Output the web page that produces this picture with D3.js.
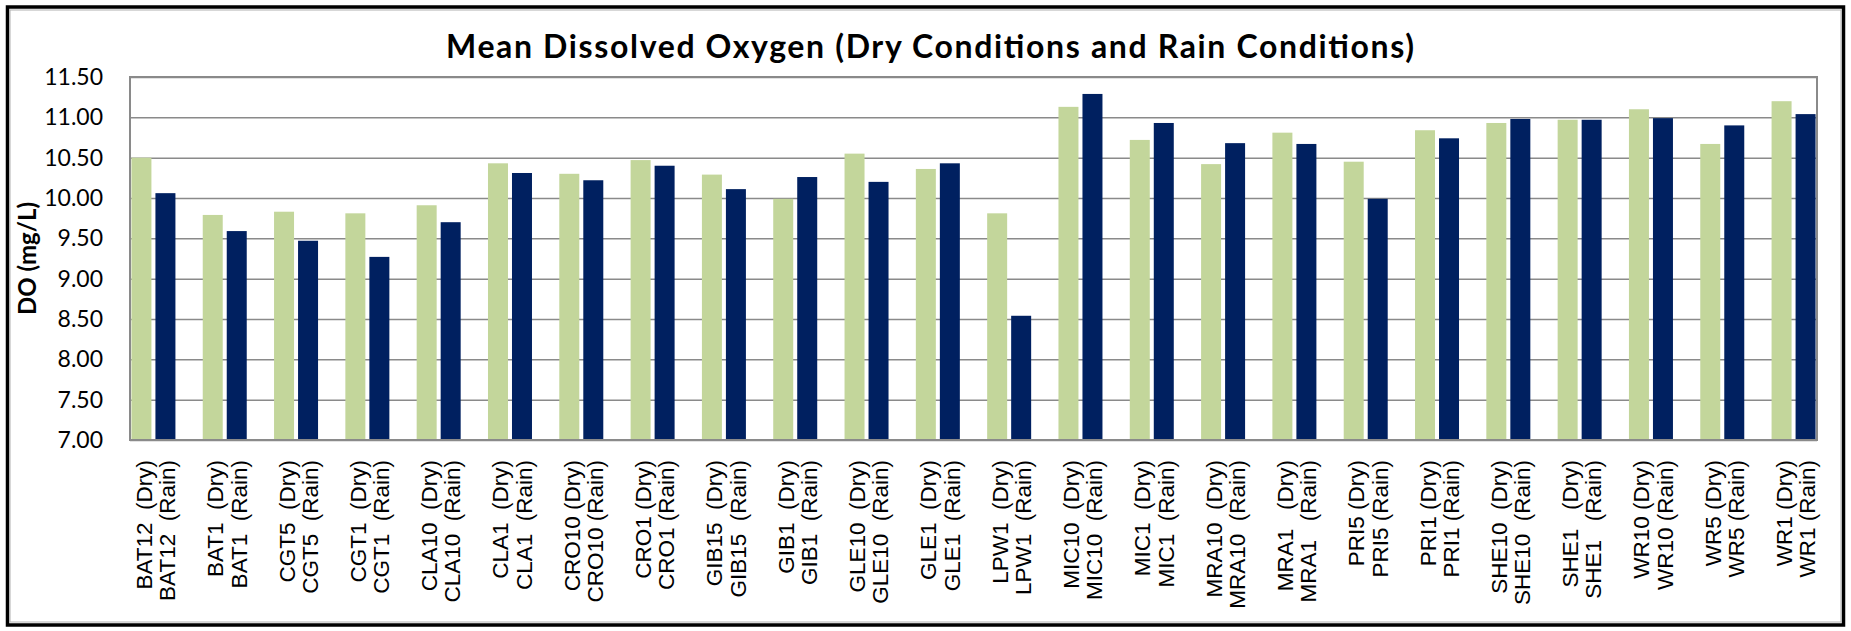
<!DOCTYPE html>
<html>
<head>
<meta charset="utf-8">
<script src="https://cdn.jsdelivr.net/npm/d3@7"></script>
<style>
  body { margin: 0; background: #fff; }
</style>
</head>
<body>
<div id="chart"></div>
<script>
// sites and the two label lines under each pair of bars
var sites = ["BAT12","BAT1","CGT5","CGT1","CLA10","CLA1","CRO10","CRO1","GIB15","GIB1","GLE10","GLE1",
    "LPW1","MIC10","MIC1","MRA10","MRA1","PRI5","PRI1","SHE10","SHE1","WR10","WR5","WR1"];
var dryLabels = ["BAT12  (Dry)","BAT1  (Dry)","CGT5  (Dry)","CGT1  (Dry)","CLA10  (Dry)","CLA1  (Dry)",
    "CRO10 (Dry)","CRO1 (Dry)","GIB15  (Dry)","GIB1  (Dry)","GLE10  (Dry)","GLE1  (Dry)","LPW1  (Dry)",
    "MIC10  (Dry)","MIC1  (Dry)","MRA10  (Dry)","MRA1   (Dry)","PRI5 (Dry)","PRI1 (Dry)","SHE10  (Dry)",
    "SHE1   (Dry)","WR10 (Dry)","WR5 (Dry)","WR1 (Dry)"];
var rainLabels = ["BAT12  (Rain)","BAT1  (Rain)","CGT5  (Rain)","CGT1  (Rain)","CLA10  (Rain)","CLA1  (Rain)",
    "CRO10 (Rain)","CRO1 (Rain)","GIB15  (Rain)","GIB1  (Rain)","GLE10  (Rain)","GLE1  (Rain)","LPW1  (Rain)",
    "MIC10  (Rain)","MIC1  (Rain)","MRA10  (Rain)","MRA1   (Rain)","PRI5 (Rain)","PRI1 (Rain)","SHE10  (Rain)",
    "SHE1   (Rain)","WR10 (Rain)","WR5 (Rain)","WR1 (Rain)"];
// mean DO, mg/L
var dryValues = [10.50,9.79,9.83,9.81,9.91,10.43,10.30,10.47,10.29,9.99,10.55,10.36,
    9.81,11.13,10.72,10.42,10.81,10.45,10.84,10.93,10.97,11.10,10.67,11.20];
var rainValues = [10.06,9.59,9.47,9.27,9.70,10.31,10.22,10.40,10.11,10.26,10.20,10.43,
    8.54,11.29,10.93,10.68,10.67,9.99,10.74,10.98,10.97,10.99,10.90,11.04];
var seriesNames = ["Dry","Rain"];
var yTicks = [7.00,7.50,8.00,8.50,9.00,9.50,10.00,10.50,11.00,11.50];

var W = 1851, H = 631;
var margin = {top: 77, right: 34, bottom: 191, left: 130};
var width = W - margin.left - margin.right,
    height = H - margin.top - margin.bottom;
var colors = {Dry: "#C3D69B", Rain: "#002060"};
var gridColor = "#8a8a8a";

var svg = d3.select("#chart").append("svg")
    .attr("width", W)
    .attr("height", H);

// outer frame
svg.append("rect")
    .attr("x", 7.5).attr("y", 7)
    .attr("width", 1836).attr("height", 618)
    .attr("fill", "#fff")
    .attr("stroke", "#000")
    .attr("stroke-width", 3.5);
svg.append("rect")
    .attr("x", 10).attr("y", 10)
    .attr("width", 1831).attr("height", 612)
    .attr("fill", "none")
    .attr("stroke", "#b0b0b0")
    .attr("stroke-width", 1);

svg.append("text")
    .attr("x", 930)
    .attr("y", 58)
    .attr("text-anchor", "middle")
    .attr("textLength", 968)
    .attr("lengthAdjust", "spacing")
    .style("font-family", "Lato, 'Open Sans', sans-serif")
    .style("font-weight", "bold")
    .style("font-size", "32px")
    .text("Mean Dissolved Oxygen (Dry Conditions and Rain Conditions)");

var g = svg.append("g")
    .attr("transform", "translate(" + margin.left + "," + margin.top + ")");

var x0 = d3.scaleBand()
    .domain(sites)
    .range([0, width])
    .paddingInner(0.383)
    .paddingOuter(0.02);
var x1 = d3.scaleBand()
    .domain(seriesNames)
    .range([0, x0.bandwidth()])
    .paddingInner(0.167);
var y = d3.scaleLinear()
    .domain([7, 11.5])
    .range([height, 0]);

// gridlines + tick labels
var yAxis = g.append("g")
    .call(d3.axisLeft(y)
        .tickValues(yTicks)
        .tickFormat(d3.format(".2f"))
        .tickSize(-width)
        .tickPadding(27));
yAxis.select(".domain").remove();
yAxis.selectAll("line")
    .attr("stroke", gridColor)
    .attr("stroke-width", 1.5);
yAxis.selectAll("text")
    .attr("fill", "#000")
    .style("font-family", "Lato, 'Open Sans', sans-serif")
    .style("font-size", "23px");

var rows = sites.map(function(s, i){
    return {site: s, Dry: dryValues[i], Rain: rainValues[i]};
});

var groups = g.selectAll(".site")
    .data(rows)
    .enter().append("g")
    .attr("class", "site")
    .attr("transform", function(d){ return "translate(" + x0(d.site) + ",0)"; });

groups.selectAll("rect")
    .data(function(d){ return seriesNames.map(function(k){ return {key: k, value: d[k]}; }); })
    .enter().append("rect")
    .attr("x", function(d){ return x1(d.key); })
    .attr("y", function(d){ return y(d.value); })
    .attr("width", x1.bandwidth())
    .attr("height", function(d){ return height - y(d.value); })
    .attr("fill", function(d){ return colors[d.key]; });

// two-line rotated category labels
sites.forEach(function(s, i){
    var cx = x0(s) + x0.bandwidth() / 2;
    [dryLabels[i], rainLabels[i]].forEach(function(t, j){
        g.append("text")
            .attr("transform", "translate(" + (cx - 1.5 + j * 23.3) + "," + (height + 20) + ") rotate(-90)")
            .attr("text-anchor", "end")
            .style("white-space", "pre")
            .style("font-family", "'Liberation Sans', Arial, sans-serif")
            .style("font-size", "22.5px")
            .text(t);
    });
});

// plot frame
g.append("rect")
    .attr("width", width)
    .attr("height", height)
    .attr("fill", "none")
    .attr("stroke", gridColor)
    .attr("stroke-width", 2);

svg.append("text")
    .attr("transform", "translate(36," + (margin.top + height / 2) + ") rotate(-90)")
    .attr("text-anchor", "middle")
    .style("font-family", "Lato, 'Open Sans', sans-serif")
    .style("font-weight", "bold")
    .style("font-size", "24px")
    .text("DO (mg/L)");
</script>
</body>
</html>
